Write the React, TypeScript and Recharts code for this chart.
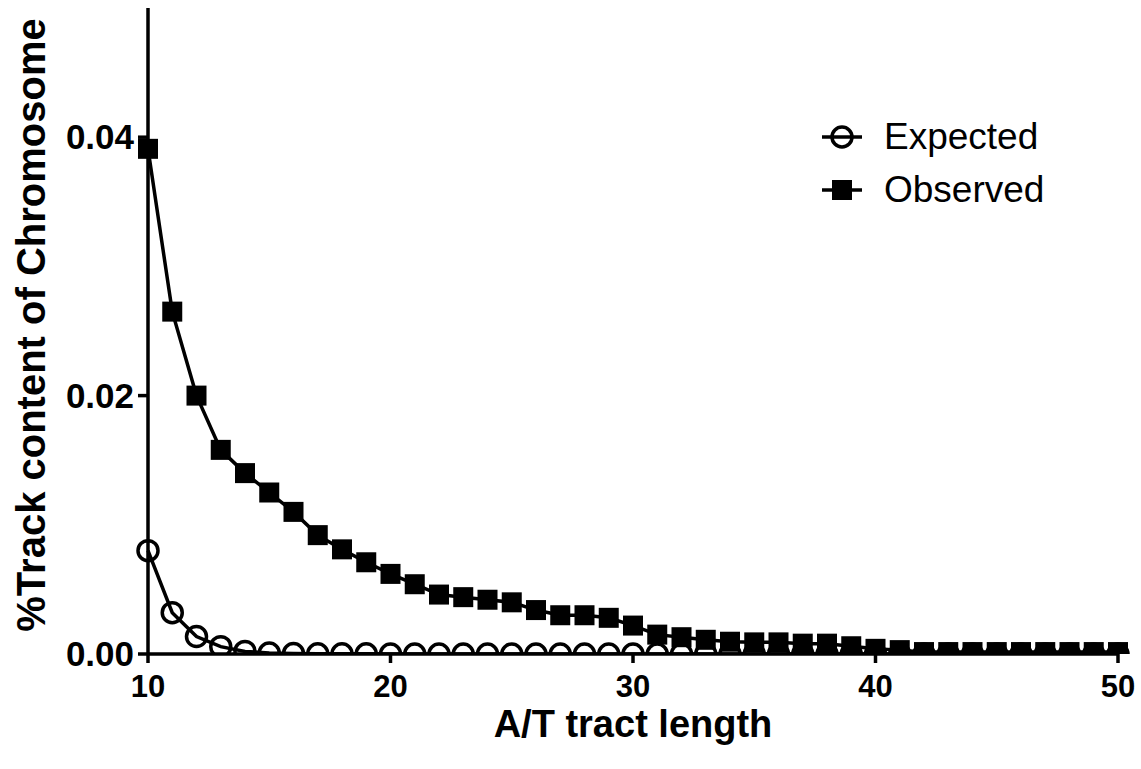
import React from 'react';
import { LineChart, Line, XAxis, YAxis, Label } from 'recharts';

const tractLengths = [10, 11, 12, 13, 14, 15, 16, 17, 18, 19, 20, 21, 22, 23, 24, 25, 26, 27, 28, 29, 30, 31, 32, 33, 34, 35, 36, 37, 38, 39, 40, 41, 42, 43, 44, 45, 46, 47, 48, 49, 50];

const expected = [0.0080, 0.0032, 0.00135, 0.00057, 0.0002, 0.00008, 0.00003, 0.00002, 0.00001, 0.00001, 0, 0, 0, 0, 0, 0, 0, 0, 0, 0, 0, 0, 0, 0, 0, 0, 0, 0, 0, 0, 0, 0, 0, 0, 0, 0, 0, 0, 0, 0, 0];

const observed = [0.0391, 0.0265, 0.0200, 0.0158, 0.0140, 0.0125, 0.0110, 0.0092, 0.0081, 0.0071, 0.0062, 0.0054, 0.0046, 0.0044, 0.0042, 0.0040, 0.0034, 0.0030, 0.0030, 0.0028, 0.0022, 0.0015, 0.0013, 0.0011, 0.00095, 0.0009, 0.0009, 0.0008, 0.0008, 0.0006, 0.0004, 0.0003, 0.00015, 0.00015, 0.00015, 0.00015, 0.00015, 0.00015, 0.00015, 0.00015, 0.00015];

const xTicks = [10, 20, 30, 40, 50];
const yTicks = [0, 0.02, 0.04];
const seriesNames = ['Expected', 'Observed'];
const xTitle = 'A/T tract length';
const yTitle = '%Track content of Chromosome';

const data = tractLengths.map((x, i) => ({ x, expected: expected[i], observed: observed[i] }));

const FONT = '"Liberation Sans", Arial, Helvetica, sans-serif';

const XTick = (props: any) => {
  const { x, y, payload } = props;
  return (
    <text x={x} y={y} dy={34} textAnchor="middle" fontFamily={FONT} fontWeight="bold" fontSize={31} fill="#000">
      {payload.value}
    </text>
  );
};

const YTick = (props: any) => {
  const { x, y, payload } = props;
  return (
    <text x={x - 4} y={y} dy={12} textAnchor="end" fontFamily={FONT} fontWeight="bold" fontSize={35} fill="#000">
      {Number(payload.value).toFixed(2)}
    </text>
  );
};

const SquareDot = (props: any) => {
  const { cx, cy, index } = props;
  if (cx == null || cy == null) return <g key={index} />;
  return <rect key={index} x={cx - 10} y={cy - 10} width={20} height={20} fill="#000" />;
};

const YTitle = (props: any) => {
  const vb = props.viewBox;
  const cx = vb.x + 31;
  const cy = vb.y + vb.height / 2 - 6;
  return (
    <text x={cx} y={cy} transform={`rotate(-90 ${cx} ${cy})`} textAnchor="middle" dominantBaseline="central"
      fontFamily={FONT} fontWeight="bold" fontSize={40} fill="#000">
      {yTitle}
    </text>
  );
};

const XTitle = (props: any) => {
  const vb = props.viewBox;
  const cx = vb.x + vb.width / 2;
  return (
    <text x={cx} y={vb.y + 83} textAnchor="middle" fontFamily={FONT} fontWeight="bold" fontSize={38} fill="#000">
      {xTitle}
    </text>
  );
};

const LegendRow = ({ name, kind }: { name: string; kind: 'circle' | 'square' }) => (
  <div style={{ display: 'flex', alignItems: 'center', height: 53 }}>
    <svg width={44} height={30} style={{ display: 'block' }}>
      <line x1={2} y1={15} x2={42} y2={15} stroke="#000" strokeWidth={3.5} />
      {kind === 'circle' ? (
        <circle cx={22} cy={15} r={10} fill="none" stroke="#000" strokeWidth={3.5} />
      ) : (
        <rect x={12} y={5} width={20} height={20} fill="#000" />
      )}
    </svg>
    <span style={{ marginLeft: 20, fontFamily: FONT, fontSize: 37, color: '#000', lineHeight: 1 }}>{name}</span>
  </div>
);

export default function App() {
  return (
    <div style={{ position: 'absolute', left: 0, top: 0, width: 1141, height: 769, background: '#fff' }}>
      <LineChart width={1141} height={769} data={data} margin={{ top: 8, right: 23, bottom: 0, left: 0 }}>
        <XAxis
          dataKey="x"
          type="number"
          domain={[10, 50]}
          ticks={xTicks}
          height={115}
          tickSize={9}
          tickMargin={0}
          axisLine={{ stroke: '#000', strokeWidth: 3.5 }}
          tickLine={{ stroke: '#000', strokeWidth: 3.5 }}
          tick={<XTick />}
        >
          <Label content={<XTitle />} />
        </XAxis>
        <YAxis
          type="number"
          domain={[0, 0.05]}
          ticks={yTicks}
          width={148}
          tickSize={10}
          tickMargin={0}
          axisLine={{ stroke: '#000', strokeWidth: 3.5 }}
          tickLine={{ stroke: '#000', strokeWidth: 3.5 }}
          tick={<YTick />}
          allowDataOverflow
        >
          <Label content={<YTitle />} />
        </YAxis>
        <Line
          dataKey="expected"
          name={seriesNames[0]}
          type="linear"
          stroke="#000"
          strokeWidth={3.5}
          dot={{ r: 10, fill: 'none', stroke: '#000', strokeWidth: 3.5 }}
          isAnimationActive={false}
        />
        <Line
          dataKey="observed"
          name={seriesNames[1]}
          type="linear"
          stroke="#000"
          strokeWidth={3.5}
          dot={<SquareDot />}
          isAnimationActive={false}
        />
      </LineChart>
      <div style={{ position: 'absolute', left: 820, top: 110 }}>
        <LegendRow name={seriesNames[0]} kind="circle" />
        <LegendRow name={seriesNames[1]} kind="square" />
      </div>
    </div>
  );
}
